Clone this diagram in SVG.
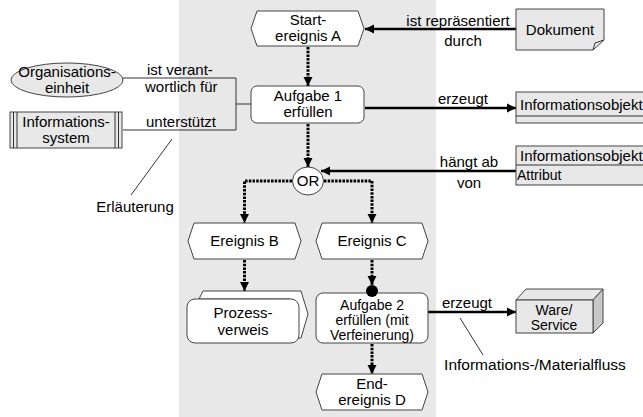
<svg xmlns="http://www.w3.org/2000/svg" width="643" height="417" viewBox="0 0 643 417">
<defs>
<marker id="ah" markerUnits="userSpaceOnUse" markerWidth="10" markerHeight="10" refX="9" refY="5" orient="auto">
<path d="M0,0.5 L9,5 L0,9.5 Z" fill="#000"/>
</marker>
<style>
text{font-family:"Liberation Sans",Arial,sans-serif;font-size:15px;fill:#000}
.c{text-anchor:middle}
.ev{fill:#fff;stroke:#444;stroke-width:1}
.fn{fill:#fff;stroke:#444;stroke-width:1}
.gr{fill:#e8e8e8;stroke:#444;stroke-width:1}
.cf{fill:none;stroke:#000;stroke-width:3;stroke-dasharray:2.5 1.2}
.inf{fill:none;stroke:#000;stroke-width:2.5}
.thin{fill:none;stroke:#333;stroke-width:1}
.sm{font-size:14px}
</style>
</defs>
<rect x="179" y="0" width="257" height="417" fill="#e8e8e8"/>

<g id="connectors">
<line class="cf" x1="308" y1="47" x2="308" y2="86" marker-end="url(#ah)"/>
<line class="cf" x1="308" y1="124" x2="308" y2="167" marker-end="url(#ah)"/>
<polyline class="cf" points="292,181 244.5,181 244.5,223" marker-end="url(#ah)"/>
<polyline class="cf" points="324,181 372,181 372,223" marker-end="url(#ah)"/>
<line class="cf" x1="244.5" y1="260" x2="244.5" y2="291" marker-end="url(#ah)"/>
<line class="cf" x1="372" y1="260" x2="372" y2="285" marker-end="url(#ah)"/>
<line class="cf" x1="372" y1="344" x2="372" y2="374" marker-end="url(#ah)"/>
<line class="inf" x1="516" y1="29" x2="365" y2="29" marker-end="url(#ah)"/>
<line class="inf" x1="365" y1="108" x2="516" y2="108" marker-end="url(#ah)"/>
<line class="inf" x1="516" y1="171" x2="321" y2="171" marker-end="url(#ah)"/>
<line class="inf" x1="428" y1="312" x2="516" y2="312" marker-end="url(#ah)"/>
<polyline class="thin" points="123,78 236,78 236,130 123,130"/>
<line class="thin" x1="236" y1="104" x2="251" y2="104"/>
<line class="thin" x1="172" y1="139" x2="131" y2="195"/>
<line class="thin" x1="460" y1="318" x2="483" y2="355"/>
</g>

<g id="labels">
<text x="147" y="75">ist verant-</text>
<text x="145" y="92">wortlich für</text>
<text x="146" y="127">unterstützt</text>
<text class="c" x="135" y="212">Erläuterung</text>
<text class="c" x="458" y="26">ist repräsentiert</text>
<text class="c" x="463" y="46">durch</text>
<text class="c" x="463" y="104">erzeugt</text>
<text class="c" x="469" y="167">hängt ab</text>
<text class="c" x="469" y="188">von</text>
<text class="c" x="467" y="308">erzeugt</text>
<text class="c" x="535" y="370" style="font-size:15.5px">Informations-/Materialfluss</text>
</g>

<g id="startA">
<polygon class="ev" points="251,28.5 257,11 358,11 364,28.5 358,46 257,46"/>
<text class="c" x="308" y="25">Start-</text>
<text class="c" x="308" y="41">ereignis A</text>
</g>

<g id="aufgabe1">
<rect class="fn" x="251" y="86" width="113" height="37" rx="6"/>
<text class="c" x="308" y="101">Aufgabe 1</text>
<text class="c" x="308" y="117">erfüllen</text>
</g>

<g id="or">
<ellipse cx="308" cy="181" rx="15.5" ry="14" fill="#fff" stroke="#444"/>
<text class="c" x="308" y="186">OR</text>
</g>

<g id="ereignisB">
<polygon class="ev" points="188,241 194,223 295,223 301,241 295,259 194,259"/>
<text class="c" x="244.5" y="246">Ereignis B</text>
</g>

<g id="ereignisC">
<polygon class="ev" points="316,241 322,223 422,223 428,241 422,259 322,259"/>
<text class="c" x="372" y="246">Ereignis C</text>
</g>

<g id="prozessverweis">
<path class="ev" d="M199,299 L203,291 L301,291 L308,314 L301,338 L290,338 L290,299 Z"/>
<rect class="fn" x="187" y="299" width="112" height="44" rx="8"/>
<text class="c" x="243" y="318">Prozess-</text>
<text class="c" x="243" y="335">verweis</text>
</g>

<g id="aufgabe2">
<rect class="fn" x="316" y="293" width="112" height="50" rx="7"/>
<circle cx="372" cy="291" r="6" fill="#000"/>
<text class="c sm" x="372" y="310">Aufgabe 2</text>
<text class="c sm" x="372" y="325">erfüllen (mit</text>
<text class="c sm" x="372" y="340">Verfeinerung)</text>
</g>

<g id="endD">
<polygon class="ev" points="316,392 322,374 422,374 428,392 422,410 322,410"/>
<text class="c" x="372" y="389">End-</text>
<text class="c" x="372" y="405">ereignis D</text>
</g>

<g id="organisationseinheit">
<ellipse class="gr" cx="67" cy="80" rx="56" ry="17"/>
<text class="c" x="67" y="77">Organisations-</text>
<text class="c" x="67" y="93">einheit</text>
</g>

<g id="informationssystem">
<rect class="gr" x="10" y="112" width="112" height="36"/>
<line class="thin" x1="13.5" y1="112" x2="13.5" y2="148"/>
<line class="thin" x1="17" y1="112" x2="17" y2="148"/>
<line class="thin" x1="115" y1="112" x2="115" y2="148"/>
<line class="thin" x1="118.5" y1="112" x2="118.5" y2="148"/>
<text class="c" x="66" y="127">Informations-</text>
<text class="c" x="66" y="143">system</text>
</g>

<g id="dokument">
<path class="gr" d="M516,9 H604 V40 L593,50 H516 Z"/>
<path class="thin" d="M593,50 L595,43 L604,40"/>
<text class="c" x="560" y="35">Dokument</text>
</g>

<g id="informationsobjekt1">
<rect class="gr" x="516" y="92" width="140" height="31"/>
<line class="thin" x1="516" y1="116" x2="643" y2="116"/>
<text x="520" y="110">Informationsobjekt</text>
</g>

<g id="informationsobjekt2">
<rect class="gr" x="516" y="146" width="140" height="39"/>
<line class="thin" x1="516" y1="165" x2="643" y2="165"/>
<text x="520" y="161">Informationsobjekt</text>
<text x="517" y="180" class="sm">Attribut</text>
</g>

<g id="ware">
<polygon class="gr" points="516,300 526,289 603,289 593,300"/>
<polygon points="593,300 603,289 603,323 593,333" fill="#c8c8c8" stroke="#444"/>
<rect class="gr" x="516" y="300" width="77" height="33"/>
<text class="c sm" x="554" y="315">Ware/</text>
<text class="c sm" x="554" y="330">Service</text>
</g>
</svg>
